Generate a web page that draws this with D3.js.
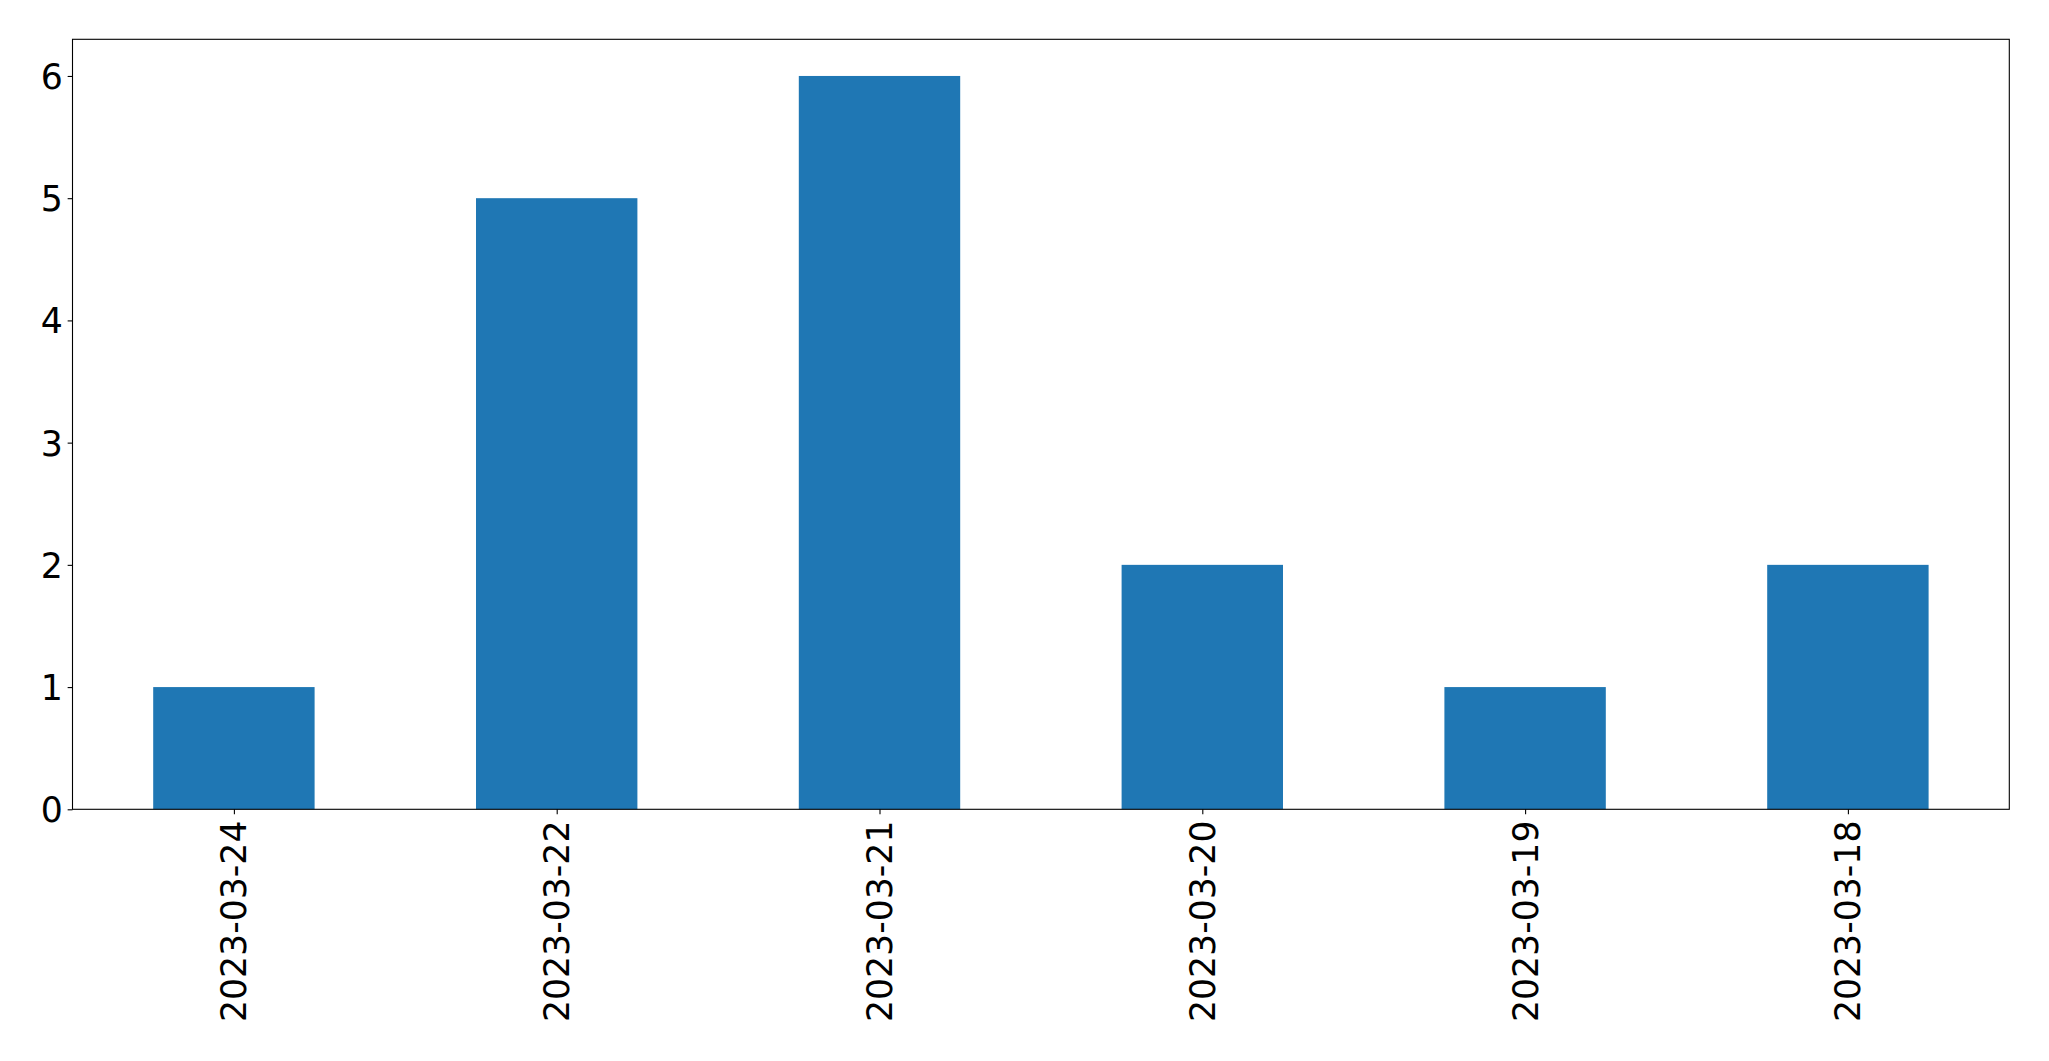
<!DOCTYPE html>
<html>
<head>
<meta charset="utf-8">
<script src="https://cdn.jsdelivr.net/npm/d3@7"></script>
<style>
  body { margin: 0; background: #fff; }
  svg { display: block; }
  text { font-family: "DejaVu Sans", sans-serif; }
</style>
</head>
<body>
<div id="chart"></div>
<script>
var width = 2049;
var height = 1061;

// data
var dates = ["2023-03-24", "2023-03-22", "2023-03-21", "2023-03-20", "2023-03-19", "2023-03-18"];
var counts = [1, 5, 6, 2, 1, 2];
var yTicks = [0, 1, 2, 3, 4, 5, 6];

var margin = {left: 72.5, right: 2049 - 2009.3, top: 39.3, bottom: 1061 - 809.3};
var tickLen = 4.86, pad = 4.86;
var fontSize = "34.7px";

var svg = d3.select("#chart").append("svg")
    .attr("width", width)
    .attr("height", height);

// pandas-like bar positions: xlim -0.5..n-0.5, bar width 0.5
var x = d3.scaleLinear()
    .domain([-0.5, dates.length - 0.5])
    .range([margin.left, width - margin.right]);

var y = d3.scaleLinear()
    .domain([0, d3.max(counts) * 1.05])
    .range([height - margin.bottom, margin.top]);

svg.append("g")
    .selectAll("rect")
    .data(counts)
    .enter()
    .append("rect")
    .attr("x", (d, i) => x(i - 0.25))
    .attr("width", (d, i) => x(i + 0.25) - x(i - 0.25))
    .attr("y", d => y(d))
    .attr("height", d => y(0) - y(d))
    .attr("fill", "#1f77b4");

// y axis
var yAxis = d3.axisLeft(y)
    .tickValues(yTicks)
    .tickFormat(d3.format("d"))
    .tickSize(tickLen)
    .tickPadding(pad);

var gy = svg.append("g")
    .attr("transform", "translate(" + margin.left + ",0)")
    .call(yAxis);
gy.select(".domain").remove();
gy.selectAll("line").attr("stroke", "#000").attr("stroke-width", 1.1);
gy.selectAll("text")
    .style("font-size", fontSize)
    .attr("fill", "#000")
    .attr("dy", "0.36em");

// x axis
var xAxis = d3.axisBottom(x)
    .tickValues(d3.range(dates.length))
    .tickFormat(i => dates[i])
    .tickSize(tickLen)
    .tickPadding(pad);

var gx = svg.append("g")
    .attr("transform", "translate(0," + (height - margin.bottom) + ")")
    .call(xAxis);
gx.select(".domain").remove();
gx.selectAll("line").attr("stroke", "#000").attr("stroke-width", 1.1);
gx.selectAll("text")
    .style("font-size", fontSize)
    .attr("fill", "#000")
    .attr("text-anchor", "end")
    .attr("dy", null)
    .attr("y", 0)
    .attr("x", 0)
    .attr("transform", "translate(0," + (tickLen + pad + 1.5) + ") rotate(-90)")
    .attr("dominant-baseline", "central");

// frame
svg.append("rect")
    .attr("x", margin.left)
    .attr("y", margin.top)
    .attr("width", width - margin.left - margin.right)
    .attr("height", height - margin.top - margin.bottom)
    .attr("fill", "none")
    .attr("stroke", "#000")
    .attr("stroke-width", 1.1);
</script>
</body>
</html>
